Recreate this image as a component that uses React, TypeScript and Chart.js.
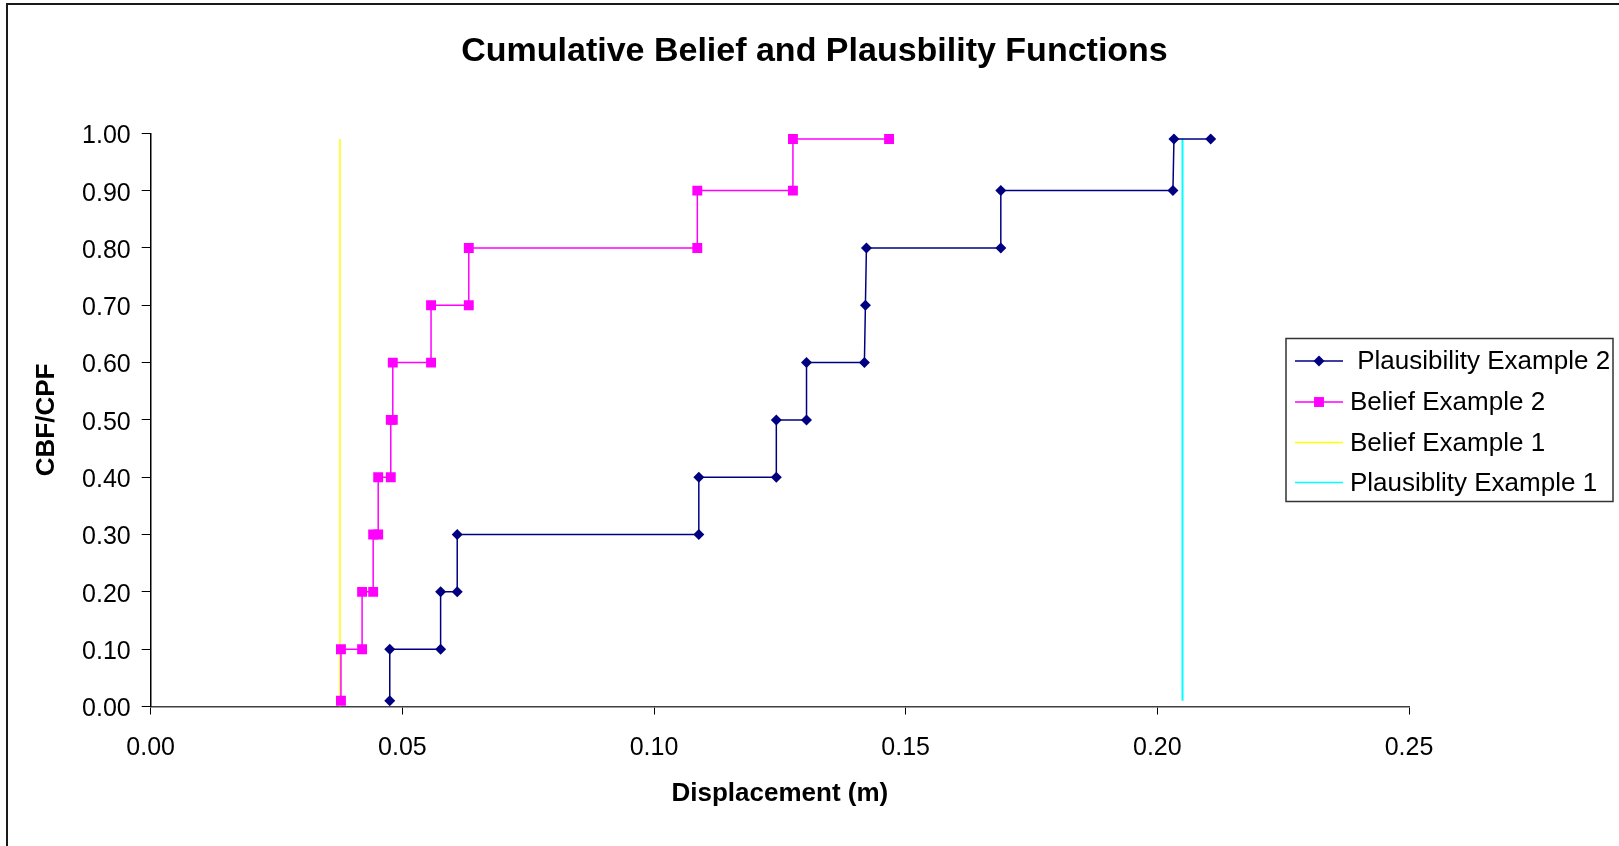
import React, { useEffect, useRef } from "react";
import { Chart, registerables } from "chart.js";

Chart.register(...registerables);

const FONT = '"Liberation Sans", Arial, Helvetica, sans-serif';

const chartTitle = "Cumulative Belief and Plausbility Functions";
const xAxisTitle = "Displacement (m)";
const yAxisTitle = "CBF/CPF";

const xMin = 0;
const xMax = 0.25;
const xStep = 0.05;
const yMin = 0;
const yMax = 1;
const yStep = 0.1;

const seriesLabels = [
  " Plausibility Example 2",
  "Belief Example 2",
  "Belief Example 1",
  "Plausiblity Example 1",
];
const seriesColors = ["#000080", "#FF00FF", "#FFFF00", "#00FFFF"];

const plausEx2X = [0.0475, 0.0475, 0.0576, 0.0576, 0.0609, 0.0609, 0.1089, 0.1089, 0.1243, 0.1243, 0.1303, 0.1303, 0.1418, 0.142, 0.1422, 0.1689, 0.1689, 0.2031, 0.2033, 0.2106];
const plausEx2Y = [0.01, 0.1, 0.1, 0.2, 0.2, 0.3, 0.3, 0.4, 0.4, 0.5, 0.5, 0.6, 0.6, 0.7, 0.8, 0.8, 0.9, 0.9, 0.99, 0.99];

const beliefEx2X = [0.0378, 0.0378, 0.042, 0.042, 0.0442, 0.0442, 0.0452, 0.0452, 0.0477, 0.0477, 0.0481, 0.0481, 0.0557, 0.0557, 0.0632, 0.0632, 0.1086, 0.1086, 0.1276, 0.1276, 0.1467];
const beliefEx2Y = [0.01, 0.1, 0.1, 0.2, 0.2, 0.3, 0.3, 0.4, 0.4, 0.5, 0.5, 0.6, 0.6, 0.7, 0.7, 0.8, 0.8, 0.9, 0.9, 0.99, 0.99];

const beliefEx1X = [0.0376, 0.0376];
const beliefEx1Y = [0, 0.99];

const plausEx1X = [0.205, 0.205];
const plausEx1Y = [0.01, 0.99];

const toPoints = (xs: number[], ys: number[]) => xs.map((x, i) => ({ x, y: ys[i] }));

export default function App() {
  const ref = useRef<HTMLCanvasElement>(null);

  useEffect(() => {
    const canvas = ref.current;
    if (!canvas) return;

    const framePlugin = {
      id: "frame",
      beforeDraw(chart: any) {
        const ctx = chart.ctx;
        ctx.save();
        ctx.fillStyle = "#ffffff";
        ctx.fillRect(0, 0, chart.width, chart.height);
        ctx.strokeStyle = "#1a1a1a";
        ctx.lineWidth = 2;
        ctx.strokeRect(7, 4, chart.width + 40, chart.height + 40);
        ctx.restore();
      },
    };

    const boxLegend = {
      id: "boxLegend",
      afterDraw(chart: any) {
        const ctx = chart.ctx;
        ctx.save();
        ctx.strokeStyle = "#333333";
        ctx.lineWidth = 1.5;
        ctx.strokeRect(1286, 338.5, 327, 163);
        const rows = [361, 402, 442.5, 482.5];
        chart.data.datasets.forEach((ds: any, i: number) => {
          const y = rows[i];
          ctx.strokeStyle = ds.borderColor;
          ctx.lineWidth = 1.5;
          ctx.beginPath();
          ctx.moveTo(1295, y);
          ctx.lineTo(1343, y);
          ctx.stroke();
          const cx = 1319;
          ctx.fillStyle = ds.backgroundColor;
          if (ds.pointStyle === "rectRot" && ds.pointRadius > 0) {
            const r = ds.pointRadius;
            ctx.beginPath();
            ctx.moveTo(cx - r, y);
            ctx.lineTo(cx, y - r);
            ctx.lineTo(cx + r, y);
            ctx.lineTo(cx, y + r);
            ctx.closePath();
            ctx.fill();
          } else if (ds.pointStyle === "rect" && ds.pointRadius > 0) {
            const s = ds.pointRadius * Math.SQRT1_2;
            ctx.fillRect(cx - s, y - s, 2 * s, 2 * s);
          }
          ctx.fillStyle = "#000000";
          ctx.font = `26px ${FONT}`;
          ctx.textAlign = "left";
          ctx.textBaseline = "middle";
          ctx.fillText(ds.label, 1350, y + 1);
        });
        ctx.restore();
      },
    };

    const chart = new Chart(canvas, {
      type: "scatter",
      data: {
        datasets: [
          {
            label: seriesLabels[0],
            data: toPoints(plausEx2X, plausEx2Y),
            showLine: true,
            borderColor: seriesColors[0],
            backgroundColor: seriesColors[0],
            borderWidth: 1.5,
            pointStyle: "rectRot",
            pointRadius: 5.5,
            pointBorderWidth: 0,
          },
          {
            label: seriesLabels[1],
            data: toPoints(beliefEx2X, beliefEx2Y),
            showLine: true,
            borderColor: seriesColors[1],
            backgroundColor: seriesColors[1],
            borderWidth: 1.5,
            pointStyle: "rect",
            pointRadius: 7,
            pointBorderWidth: 0,
          },
          {
            label: seriesLabels[2],
            data: toPoints(beliefEx1X, beliefEx1Y),
            showLine: true,
            borderColor: seriesColors[2],
            backgroundColor: seriesColors[2],
            borderWidth: 1.5,
            pointRadius: 0,
          },
          {
            label: seriesLabels[3],
            data: toPoints(plausEx1X, plausEx1Y),
            showLine: true,
            borderColor: seriesColors[3],
            backgroundColor: seriesColors[3],
            borderWidth: 2,
            pointRadius: 0,
          },
        ],
      } as any,
      options: {
        responsive: false,
        animation: false,
        events: [],
        layout: { padding: { left: 10, right: 0, top: 0, bottom: 0 } },
        plugins: {
          legend: { display: false },
          tooltip: { enabled: false },
          title: {
            display: true,
            text: chartTitle,
            color: "#000000",
            font: { family: FONT, size: 34, weight: "bold", lineHeight: 1.2 },
            padding: { top: 31, bottom: 61.5 },
          },
        },
        scales: {
          x: {
            type: "linear",
            position: "bottom",
            min: xMin,
            max: xMax,
            afterFit: (s: any) => {
              s.height = 846 - 706.5;
            },
            ticks: {
              stepSize: xStep,
              color: "#000000",
              font: { family: FONT, size: 25 },
              padding: 18.5,
              maxRotation: 0,
              callback: (v: any) => Number(v).toFixed(2),
            },
            grid: {
              display: true,
              drawOnChartArea: false,
              drawTicks: true,
              tickLength: 8,
              color: "#000000",
              lineWidth: 1,
            },
            border: { display: true, color: "#404040", width: 1.5 },
            title: {
              display: true,
              text: xAxisTitle,
              color: "#000000",
              font: { family: FONT, size: 26, weight: "bold", lineHeight: 1.2 },
              padding: { top: 0, bottom: 36.4 },
            },
          },
          y: {
            type: "linear",
            position: "left",
            min: yMin,
            max: yMax,
            afterFit: (s: any) => {
              s.width = 150.7 - 10;
            },
            ticks: {
              stepSize: yStep,
              color: "#000000",
              font: { family: FONT, size: 25 },
              padding: 11,
              labelOffset: 3,
              callback: (v: any) => Number(v).toFixed(2),
            },
            grid: {
              display: true,
              drawOnChartArea: false,
              drawTicks: true,
              tickLength: 9,
              color: "#000000",
              lineWidth: 1,
            },
            border: { display: true, color: "#000000", width: 1.5 },
            title: {
              display: true,
              text: yAxisTitle,
              color: "#000000",
              font: { family: FONT, size: 26, weight: "bold", lineHeight: 1.2 },
              padding: { top: 21.5, bottom: 0 },
            },
          },
          rightSpace: {
            type: "linear",
            position: "right",
            display: true,
            min: 0,
            max: 1,
            afterFit: (s: any) => {
              s.width = 1619 - 1409;
            },
            ticks: { display: false },
            grid: { display: false, drawTicks: false },
            border: { display: false },
          },
        },
      } as any,
      plugins: [framePlugin, boxLegend],
    });

    return () => chart.destroy();
  }, []);

  return (
    <div style={{ position: "fixed", left: 0, top: 0, width: 1619, height: 846, background: "#fff" }}>
      <canvas ref={ref} width={1619} height={846} style={{ display: "block", width: 1619, height: 846 }} />
    </div>
  );
}
